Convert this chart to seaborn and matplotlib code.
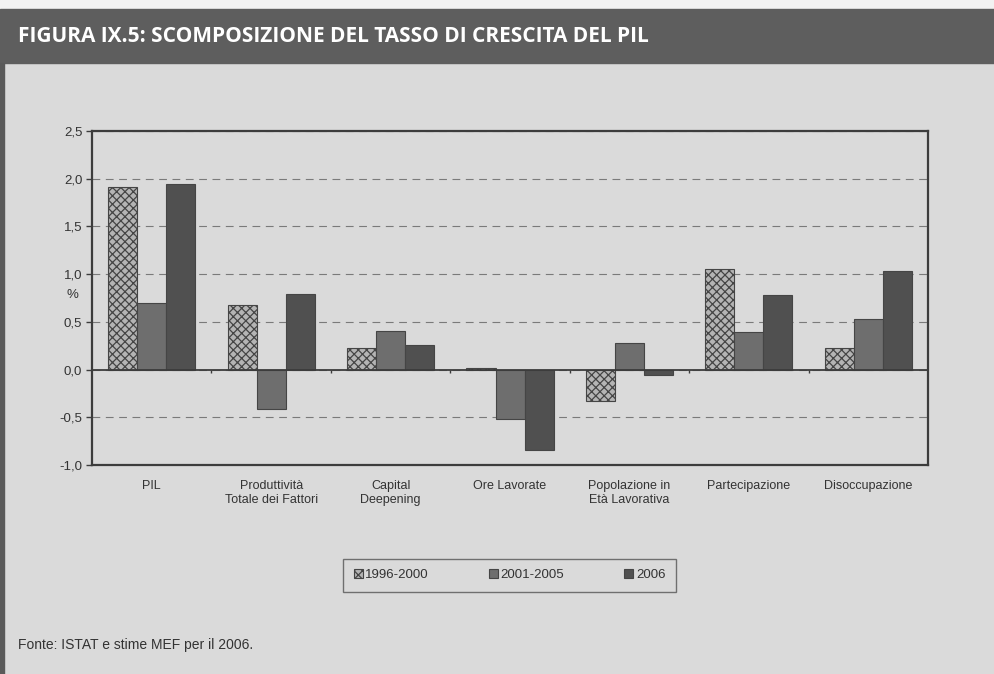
import numpy as np
import pandas as pd
import seaborn as sns
import matplotlib.pyplot as plt
from matplotlib.patches import Rectangle
from matplotlib.ticker import FuncFormatter, MultipleLocator

#---------------- data ----------------
categorie = ["PIL", "Produttività\nTotale dei Fattori", "Capital\nDeepening", "Ore Lavorate",
             "Popolazione in\nEtà Lavorativa", "Partecipazione", "Disoccupazione"]
periodi = ["1996-2000", "2001-2005", "2006"]
v_1996_2000 = [1.91, 0.68, 0.23, 0.02, -0.33, 1.05, 0.23]
v_2001_2005 = [0.70, -0.41, 0.40, -0.52, 0.28, 0.39, 0.53]
v_2006 = [1.95, 0.79, 0.26, -0.84, -0.06, 0.78, 1.03]

df = pd.DataFrame({
    "categoria": categorie * 3,
    "periodo": [p for p in periodi for _ in categorie],
    "valore": v_1996_2000 + v_2001_2005 + v_2006,
})

#---------------- style ----------------
sns.set_style("white")
plt.rcParams['font.family'] = ['Liberation Sans', 'DejaVu Sans']
plt.rcParams['hatch.linewidth'] = 0.9
plt.rcParams['hatch.color'] = '#4a4a4a'
bg = '#dadada'

fig = plt.figure(figsize=(9.95, 6.74), dpi=100, facecolor=bg)
ax = fig.add_axes([0.0925, 0.31, 0.8402, 0.4956])
ax.set_facecolor('none')

# title bar + frame bits
fig.patches.append(Rectangle((0, 0.9866), 1, 0.0134, transform=fig.transFigure, color='#f2f2f2', zorder=0))
fig.patches.append(Rectangle((0, 0.9065), 1, 0.0801, transform=fig.transFigure, color='#5e5e5e', zorder=0))
fig.patches.append(Rectangle((0, 0), 0.004, 0.9065, transform=fig.transFigure, color='#5a5a5a', zorder=0))
fig.text(0.018, 0.9465, "FIGURA IX.5: SCOMPOSIZIONE DEL TASSO DI CRESCITA DEL PIL",
         color='white', fontsize=15, fontweight='bold', family=['Open Sans', 'DejaVu Sans'],
         va='center', ha='left')

#---------------- bars ----------------
sns.barplot(data=df, x="categoria", y="valore", hue="periodo", hue_order=periodi,
            palette=['#b4b4b4', '#6e6e6e', '#505050'], saturation=1, width=0.73,
            edgecolor='#454545', linewidth=0.8, legend=False, ax=ax)
for bar in ax.containers[0]:
    bar.set_hatch('xxxx')

ax.set_ylim(-1.0, 2.5)
ax.set_xlim(-0.5, len(categorie) - 0.5)
ax.yaxis.set_major_locator(MultipleLocator(0.5))
ax.yaxis.set_major_formatter(FuncFormatter(lambda v, p: f"{v:.1f}".replace('.', ',')))
ax.grid(axis='y', color='#7a7a7a', linestyle=(0, (7, 5)), linewidth=0.8)
ax.set_axisbelow(True)
ax.axhline(0, color='#3c3c3c', linewidth=1.3, zorder=3)
ax.vlines(np.arange(len(categorie) - 1) + 0.5, -0.04, 0, color='#3c3c3c', linewidth=1.0, zorder=3)

for s in ax.spines.values():
    s.set_visible(True)
    s.set_color('#3c3c3c')
    s.set_linewidth(1.6)

ax.tick_params(axis='y', length=4, width=1, color='#3c3c3c', labelsize=9.5, labelcolor='#333333', pad=3, left=True)
ax.tick_params(axis='x', length=0, labelsize=9, labelcolor='#333333', pad=11)
ax.set_xlabel("")
ax.set_ylabel("%", rotation=0, fontsize=9.5, color='#333333')
ax.yaxis.set_label_coords(-0.024, 0.49)

ax.legend(handles=list(ax.containers), labels=periodi, loc='lower left', mode='expand',
          bbox_to_anchor=(0.3447, 0.1217, 0.3347, 0.0475), bbox_transform=fig.transFigure,
          ncol=3, frameon=True, fancybox=False, edgecolor='#555555', facecolor='none',
          fontsize=9.5, handlelength=0.7, handleheight=0.7, handletextpad=0.2,
          borderpad=0.8, borderaxespad=0, labelcolor='#333333')

fig.text(0.018, 0.043, "Fonte: ISTAT e stime MEF per il 2006.", fontsize=10, color='#333333',
         va='center', ha='left')

fig.savefig("out.png", dpi=100, facecolor=bg)
